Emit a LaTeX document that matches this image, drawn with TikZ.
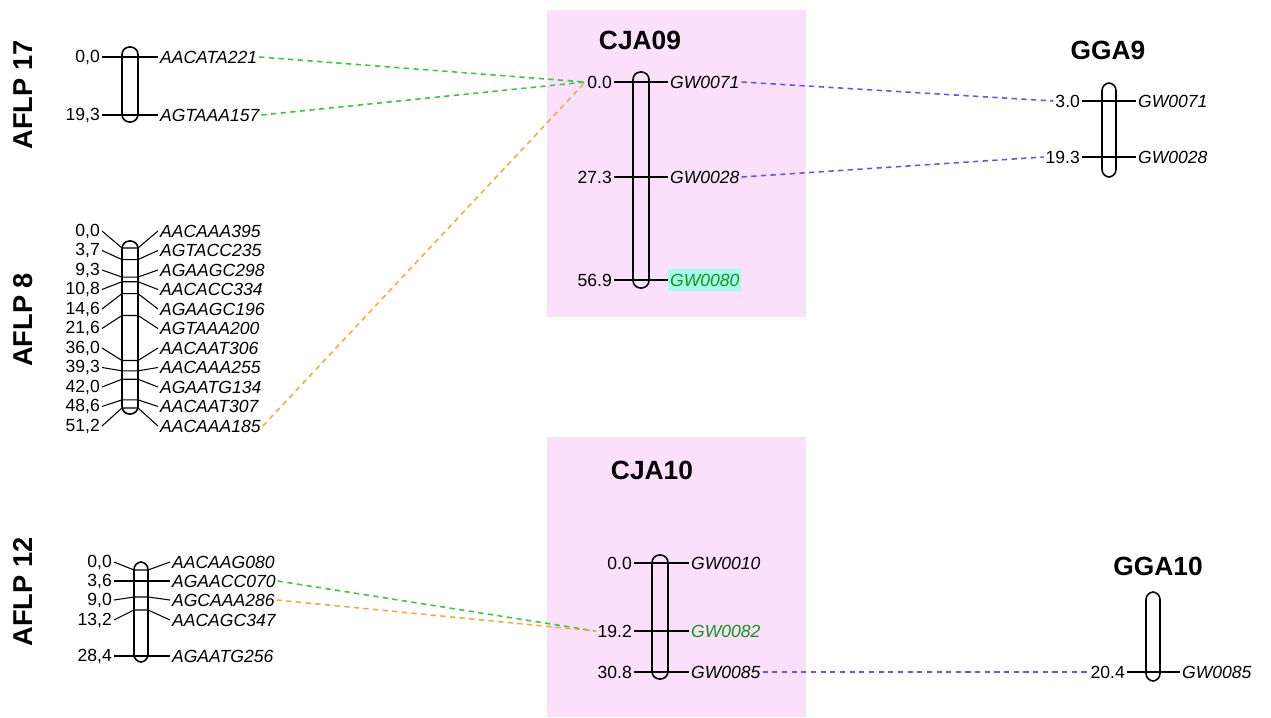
\documentclass[tikz,border=0pt]{standalone}
\usepackage{fontspec}
\setmainfont{Liberation Sans}
\usetikzlibrary{positioning}
\definecolor{pinkbg}{RGB}{251,224,251}
\definecolor{cyanbg}{RGB}{165,250,235}
\definecolor{mgreen}{RGB}{20,150,20}
\definecolor{lgreen}{RGB}{60,200,60}
\definecolor{lorange}{RGB}{245,170,60}
\definecolor{lblue}{RGB}{90,90,240}
\tikzset{
  chrom/.style={draw, line width=0.9pt, rounded corners=0.15cm},
  tick/.style={line width=0.6pt},
  num/.style={font=\fontsize{10}{12}\selectfont, inner sep=1pt},
  mrk/.style={font=\fontsize{10}{12}\selectfont\itshape, inner sep=1pt},
  ttl/.style={font=\fontsize{15}{18}\selectfont\bfseries},
  grp/.style={font=\fontsize{15.5}{18}\selectfont\bfseries, rotate=90},
  link/.style={dash pattern=on 3pt off 2.5pt, line width=0.9pt},
}
\begin{document}
\begin{tikzpicture}[x=0.02cm, y=-0.02cm]
  \useasboundingbox (0,0) rectangle (1271,717);
  \fill[pinkbg] (547,10) rectangle (806,317);
  \fill[pinkbg] (547,437) rectangle (806,717);

  % AFLP 17
  \node[grp] (l17) at (23,95) {AFLP 17};
  \draw[chrom] (122,47) rectangle (138,122);
  \foreach \y/\d/\m [count=\i] in {57/{0,0}/AACATA221, 115/{19,3}/AGTAAA157} {
    \node[num, anchor=east] (a17n\i) at (102,\y) {\d};
    \node[mrk, anchor=west] (a17m\i) at (158,\y) {\m};
    \draw[tick] (a17n\i) -- (a17m\i);
  }

  % AFLP 8
  \node[grp] (l8) at (23,320) {AFLP 8};
  \draw[chrom] (122,241) rectangle (138,414);
  \foreach \p/\d/\m [count=\i] in {0/{0,0}/AACAAA395, 3.7/{3,7}/AGTACC235,
      9.3/{9,3}/AGAAGC298, 10.8/{10,8}/AACACC334, 14.6/{14,6}/AGAAGC196,
      21.6/{21,6}/AGTAAA200, 36.0/{36,0}/AACAAT306, 39.3/{39,3}/AACAAA255,
      42.0/{42,0}/AGAATG134, 48.6/{48,6}/AACAAT307, 51.2/{51,2}/AACAAA185} {
    \pgfmathsetmacro\ly{231+19.5*(\i-1)}
    \pgfmathsetmacro\py{248+3.125*\p}
    \node[num, anchor=east] (a8n\i) at (102,\ly) {\d};
    \node[mrk, anchor=west] (a8m\i) at (158,\ly) {\m};
    \draw[tick] (a8n\i.east) -- (122,\py) -- (138,\py) -- (a8m\i.west);
  }

  % CJA09
  \node[ttl] (t9) at (640,40) {CJA09};
  \draw[chrom] (633,72) rectangle (649,288);
  \foreach \y/\d/\m [count=\i] in {82/0.0/GW0071, 177/27.3/GW0028} {
    \node[num, anchor=east] (c9n\i) at (614,\y) {\d};
    \node[mrk, anchor=west] (c9m\i) at (668,\y) {\m};
    \draw[tick] (c9n\i) -- (c9m\i);
  }
  \node[num, anchor=east] (c9n3) at (614,280) {56.9};
  \node[mrk, anchor=west, text=mgreen, fill=cyanbg, inner ysep=3pt] (c9m3) at (668,280) {GW0080};
  \draw[tick] (c9n3) -- (c9m3);

  % GGA9
  \node[ttl] (g9) at (1108,50) {GGA9};
  \draw[chrom] (1102,83) rectangle (1116,177);
  \foreach \y/\d/\m [count=\i] in {101/3.0/GW0071, 157/19.3/GW0028} {
    \node[num, anchor=east] (g9n\i) at (1082,\y) {\d};
    \node[mrk, anchor=west] (g9m\i) at (1136,\y) {\m};
    \draw[tick] (g9n\i) -- (g9m\i);
  }

  % AFLP 12
  \node[grp] (l12) at (23,592) {AFLP 12};
  \draw[chrom] (134,562) rectangle (148,662);
  \foreach \ly/\py/\d/\m [count=\i] in {562/570/{0,0}/AACAAG080, 581/581/{3,6}/AGAACC070,
      600/597/{9,0}/AGCAAA286, 620/610/{13,2}/AACAGC347, 656/656/{28,4}/AGAATG256} {
    \node[num, anchor=east] (a12n\i) at (114,\ly) {\d};
    \node[mrk, anchor=west] (a12m\i) at (170,\ly) {\m};
    \draw[tick] (a12n\i.east) -- (134,\py) -- (148,\py) -- (a12m\i.west);
  }

  % CJA10
  \node[ttl] (t10) at (652,470) {CJA10};
  \draw[chrom] (652,555) rectangle (668,679);
  \foreach \y/\d/\m/\c [count=\i] in {563/0.0/GW0010/black, 631/19.2/GW0082/mgreen,
      672/30.8/GW0085/black} {
    \node[num, anchor=east] (c10n\i) at (634,\y) {\d};
    \node[mrk, anchor=west, text=\c] (c10m\i) at (689,\y) {\m};
    \draw[tick] (c10n\i) -- (c10m\i);
  }

  % GGA10
  \node[ttl] (g10) at (1158,566) {GGA10};
  \draw[chrom] (1146,592) rectangle (1160,681);
  \node[num, anchor=east] (g10n1) at (1127,672) {20.4};
  \node[mrk, anchor=west] (g10m1) at (1180,672) {GW0085};
  \draw[tick] (g10n1) -- (g10m1);

  % links
  \draw[link, lgreen] (a17m1.east) -- (c9n1.west);
  \draw[link, lgreen] (a17m2.east) -- (c9n1.west);
  \draw[link, lorange] (a8m11.east) -- (c9n1.west);
  \draw[link, lblue] (c9m1.east) -- (g9n1.west);
  \draw[link, lblue] (c9m2.east) -- (g9n2.west);
  \draw[link, lgreen] (a12m2.east) -- (c10n2.west);
  \draw[link, lorange] (a12m3.east) -- (c10n2.west);
  \draw[link, lblue] (c10m3.east) -- (g10n1.west);
\end{tikzpicture}
\end{document}
